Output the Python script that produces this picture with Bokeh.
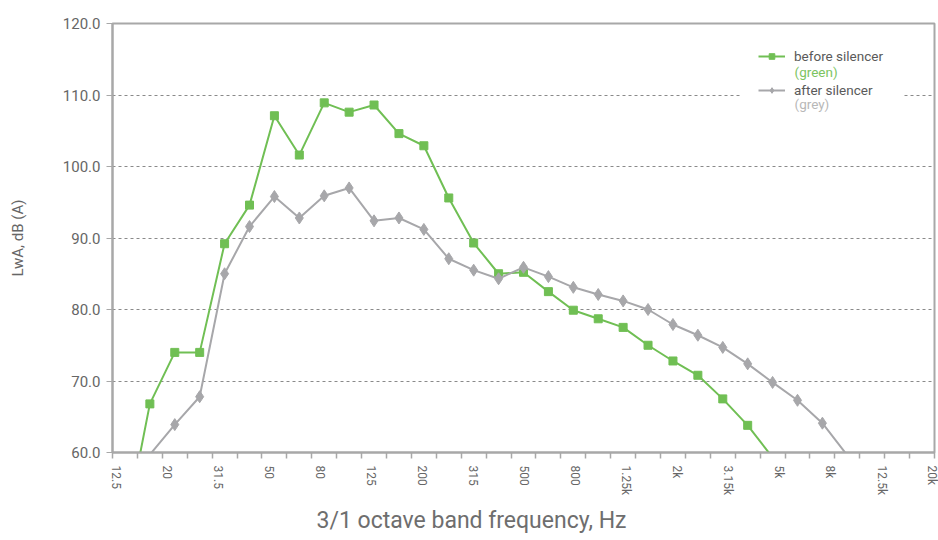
import math
from bokeh.plotting import figure
from bokeh.models import (Range1d, FixedTicker, PrintfTickFormatter, Legend,
                          LegendItem, Label, Title, BoxAnnotation)
from bokeh.embed import file_html
from bokeh.resources import INLINE

# 1/3-octave band centre frequencies (categories)
bands = ["12.5", "16", "20", "25", "31.5", "40", "50", "63", "80", "100",
         "125", "160", "200", "250", "315", "400", "500", "630", "800", "1k",
         "1.25k", "1.6k", "2k", "2.5k", "3.15k", "4k", "5k", "6.3k", "8k",
         "10k", "12.5k", "16k", "20k"]
tick_labels = ["12.5", "20", "31.5", "50", "80", "125", "200", "315", "500",
               "800", "1.25k", "2k", "3.15k", "5k", "8k", "12.5k", "20k"]

# LwA dB(A), before silencer (green) - starts at band "12.5"
before_start = 0
before = [49.0, 66.8, 74.0, 74.0, 89.2, 94.6, 107.1, 101.6, 108.9, 107.6,
          108.6, 104.6, 102.9, 95.6, 89.3, 85.0, 85.2, 82.5, 79.9, 78.7,
          77.5, 75.0, 72.8, 70.8, 67.5, 63.8, 59.3]
# after silencer (grey) - starts at band "16"
after_start = 1
after = [59.7, 63.9, 67.8, 85.0, 91.6, 95.8, 92.8, 95.9, 97.0, 92.4,
         92.8, 91.2, 87.1, 85.5, 84.3, 85.9, 84.6, 83.1, 82.1, 81.2,
         80.0, 77.9, 76.4, 74.7, 72.4, 69.8, 67.3, 64.1, 59.6]

y_ticks = [60, 70, 80, 90, 100, 110, 120]
y_min, y_max = 60, 120

GREEN = "#70bf54"
GREY = "#a7a7aa"
AXIS = "#a8a8a8"
TXT = "#666666"
FONT = "Roboto"

n_cat = len(bands)
bx = [before_start + i + 0.5 for i in range(len(before))]
ax = [after_start + i + 0.5 for i in range(len(after))]

p = figure(width=938, height=540, x_range=Range1d(0, n_cat),
           y_range=Range1d(y_min, y_max), output_backend="svg",
           toolbar_location=None, min_border_left=112, min_border_right=4,
           min_border_top=23, min_border_bottom=85)
p.background_fill_color = "white"
p.border_fill_color = "white"
p.outline_line_color = AXIS
p.outline_line_width = 2

# grid
p.xgrid.visible = False
p.ygrid.ticker = FixedTicker(ticks=y_ticks)
p.ygrid.grid_line_color = "#8a8a8a"
p.ygrid.grid_line_dash = "3 3"
p.ygrid.grid_line_width = 1

# y axis
p.yaxis.ticker = FixedTicker(ticks=y_ticks, minor_ticks=[])
p.yaxis.formatter = PrintfTickFormatter(format="%.1f")
p.yaxis.axis_line_color = AXIS
p.yaxis.axis_line_width = 2
p.yaxis.major_tick_line_color = AXIS
p.yaxis.major_tick_out = 6
p.yaxis.major_tick_in = 0
p.yaxis.minor_tick_line_color = None
p.yaxis.major_label_standoff = 6
p.yaxis.major_label_text_font = FONT
p.yaxis.major_label_text_font_size = "15px"
p.yaxis.major_label_text_color = TXT
p.yaxis.axis_label = "LwA, dB (A)"
p.yaxis.axis_label_text_font = FONT
p.yaxis.axis_label_text_font_size = "15px"
p.yaxis.axis_label_text_font_style = "normal"
p.yaxis.axis_label_text_color = TXT
p.yaxis.axis_label_standoff = 33

# x axis
label_pos = [0.132 + 2.0494 * k for k in range(len(tick_labels))]
p.xaxis.ticker = FixedTicker(ticks=label_pos, minor_ticks=list(range(n_cat + 1)))
p.xaxis.major_label_overrides = {pos: lab for pos, lab in zip(label_pos, tick_labels)}
p.xaxis.major_label_orientation = -math.pi / 2
p.xaxis.axis_line_color = AXIS
p.xaxis.axis_line_width = 2
p.xaxis.major_tick_line_color = None
p.xaxis.major_tick_out = 6
p.xaxis.major_tick_in = 0
p.xaxis.minor_tick_line_color = AXIS
p.xaxis.minor_tick_line_width = 1.5
p.xaxis.minor_tick_out = 6
p.xaxis.minor_tick_in = 0
p.xaxis.major_label_standoff = 7
p.xaxis.major_label_text_font = FONT
p.xaxis.major_label_text_font_size = "12px"
p.xaxis.major_label_text_color = TXT

p.add_layout(Title(text="3/1 octave band frequency, Hz", align="left",
                   offset=204, text_font=FONT, text_font_size="23px",
                   text_font_style="normal", text_color="#6e6e6e",
                   standoff=14), "below")

# series
gl = p.line(bx, before, line_color=GREEN, line_width=2)
gs = p.scatter([x for x, v in zip(bx, before) if v >= y_min],
               [v for v in before if v >= y_min],
               marker="square", size=8, fill_color=GREEN, line_color=GREEN)
al = p.line(ax, after, line_color=GREY, line_width=2)
as_ = p.scatter([x for x, v in zip(ax, after) if v >= y_min],
                [v for v in after if v >= y_min],
                marker="diamond", size=12, fill_color=GREY, line_color=GREY)

# white legend background hiding the grid line behind the legend
p.add_layout(BoxAnnotation(left=25.2, right=31.7, bottom=107.6, top=118.6,
                           fill_color="white", fill_alpha=1.0,
                           line_color=None, level="annotation"))

legend = Legend(items=[LegendItem(label="before silencer", renderers=[gl, gs]),
                       LegendItem(label="after silencer", renderers=[al, as_])],
                location=(646, 354), orientation="vertical",
                background_fill_alpha=0.0,
                border_line_color=None, padding=17, margin=0, spacing=18,
                glyph_width=27, glyph_height=14, label_height=14,
                label_standoff=9, label_text_font=FONT,
                label_text_font_size="13.5px", label_text_color="#5a5a5a")
p.add_layout(legend)

# colour notes under the legend entries
legend_note_x = 27.38
p.add_layout(Label(x=legend_note_x, y=113.2, text="(green)", text_color="#7cc461",
                   text_font=FONT, text_font_size="13.5px",
                   text_baseline="middle"))
p.add_layout(Label(x=legend_note_x, y=108.75, text="(grey)", text_color="#b8b8b8",
                   text_font=FONT, text_font_size="13.5px",
                   text_baseline="middle"))

open("out.html", "w").write(file_html(p, INLINE))
